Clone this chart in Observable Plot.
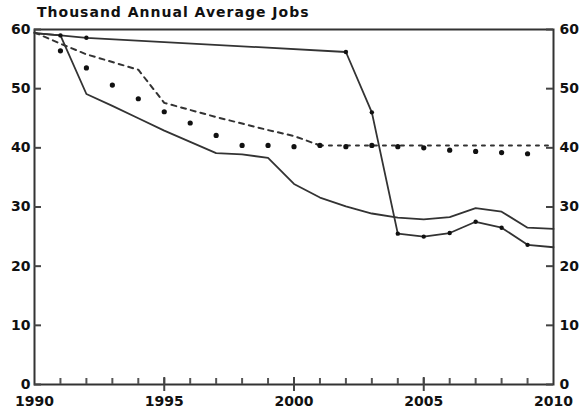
<!DOCTYPE html>
<html>
<head>
<meta charset="utf-8">
<script src="https://cdn.jsdelivr.net/npm/d3@7"></script>
<script src="https://cdn.jsdelivr.net/npm/@observablehq/plot@0.6"></script>
<style>
  html, body { margin: 0; padding: 0; background: #fff; }
  #title { height: 20px; padding-left: 37px; font: bold 14px "DejaVu Sans", sans-serif; letter-spacing: 1px; line-height: 25px; color: #111; white-space: nowrap; }
  svg { display: block; overflow: visible; }
</style>
</head>
<body>
<div id="title">Thousand Annual Average Jobs</div>
<div id="chart"></div>
<script>
// Upper solid line with markers
const yearsA = [1990, 1991, 1992, 2002, 2003, 2004, 2005, 2006, 2007, 2008, 2009, 2010];
const valuesA = [59.4, 59.0, 58.6, 56.2, 46.0, 25.5, 25.0, 25.6, 27.5, 26.5, 23.6, 23.2];
const markedA = [1991, 1992, 2002, 2003, 2004, 2005, 2006, 2007, 2008, 2009];

// Lower solid line (no markers)
const yearsB = [1990, 1991, 1992, 1993, 1994, 1995, 1996, 1997, 1998, 1999, 2000, 2001, 2002, 2003, 2004, 2005, 2006, 2007, 2008, 2009, 2010];
const valuesB = [59.4, 59.0, 49.1, 47.1, 45.0, 42.9, 41.0, 39.1, 38.9, 38.3, 33.9, 31.6, 30.1, 28.9, 28.2, 27.9, 28.3, 29.8, 29.2, 26.5, 26.3];

// Dashed line (1990-2001) then dotted flat line (2001-2010)
const yearsC = [1990, 1991, 1992, 1993, 1994, 1995, 1996, 1997, 1998, 1999, 2000, 2001];
const valuesC = [59.5, 57.6, 55.8, 54.5, 53.2, 47.6, 46.4, 45.2, 44.1, 43.0, 42.0, 40.4];
const yearsC2 = [2001, 2002, 2003, 2004, 2005, 2006, 2007, 2008, 2009, 2010];
const valuesC2 = [40.4, 40.4, 40.4, 40.4, 40.4, 40.4, 40.4, 40.4, 40.4, 40.4];

// Scatter points (no line)
const yearsD = [1991, 1992, 1993, 1994, 1995, 1996, 1997, 1998, 1999, 2000, 2001, 2002, 2003, 2004, 2005, 2006, 2007, 2008, 2009];
const valuesD = [56.4, 53.5, 50.6, 48.3, 46.1, 44.2, 42.1, 40.4, 40.4, 40.2, 40.4, 40.2, 40.4, 40.2, 40.0, 39.6, 39.4, 39.2, 39.0];

const yTicks = [0, 10, 20, 30, 40, 50, 60];
const xTicks = [1990, 1995, 2000, 2005, 2010];
const xMajor = [1995, 2000, 2005];
const xMinor = d3.range(1991, 2010);

const A = yearsA.map((x, i) => ({x, y: valuesA[i]}));
const B = yearsB.map((x, i) => ({x, y: valuesB[i]}));
const C = yearsC.map((x, i) => ({x, y: valuesC[i]}));
const C2 = yearsC2.map((x, i) => ({x, y: valuesC2[i]}));
const D = yearsD.map((x, i) => ({x, y: valuesD[i]}));

const ink = "#333";
const W = 587, H = 397, mT = 9, mB = 33, mL = 34, mR = 34;
const plotW = W - mL - mR, plotH = H - mT - mB;

const chart = Plot.plot({
  width: W,
  height: H,
  marginTop: mT,
  marginBottom: mB,
  marginLeft: mL,
  marginRight: mR,
  style: {fontFamily: "DejaVu Sans, sans-serif", fontSize: "14px", fontWeight: "bold", color: "#111", background: "#fff"},
  x: {domain: [1990, 2010]},
  y: {domain: [0, 60]},
  marks: [
    Plot.frame({stroke: ink, strokeWidth: 2, fill: "none"}),
    // inward minor ticks along the bottom
    Plot.axisX({ticks: xMinor, tickSize: 6, dy: -6, tickFormat: () => "", label: null, stroke: "#555", strokeWidth: 2}),
    // major ticks crossing the bottom axis
    Plot.tickX(xMajor, {x: d => d, insetTop: plotH - 7, insetBottom: -7, stroke: "#444", strokeWidth: 2}),
    // inward y ticks, both sides
    Plot.tickY(yTicks, {y: d => d, insetRight: plotW - 7, stroke: "#444", strokeWidth: 2}),
    Plot.tickY(yTicks, {y: d => d, insetLeft: plotW - 7, stroke: "#444", strokeWidth: 2}),
    Plot.axisX({ticks: xTicks, tickSize: 0, tickPadding: 12, tickFormat: d => String(d), label: null, fill: "#111"}),
    Plot.axisY({anchor: "left", ticks: yTicks, tickSize: 0, tickPadding: 4, label: null, fill: "#111"}),
    Plot.axisY({anchor: "right", ticks: yTicks, tickSize: 0, tickPadding: 6, label: null, fill: "#111"}),
    Plot.line(B, {x: "x", y: "y", stroke: ink, strokeWidth: 1.8}),
    Plot.line(A, {x: "x", y: "y", stroke: ink, strokeWidth: 1.8}),
    Plot.dot(A.filter(d => markedA.includes(d.x)), {x: "x", y: "y", r: 2.2, fill: "#111", stroke: null}),
    Plot.line(C, {x: "x", y: "y", stroke: ink, strokeWidth: 2, strokeDasharray: "5,5"}),
    Plot.line(C2, {x: "x", y: "y", stroke: ink, strokeWidth: 2, strokeDasharray: "3,6"}),
    Plot.dot(D, {x: "x", y: "y", r: 2.6, fill: "#111", stroke: null})
  ]
});
document.getElementById("chart").appendChild(chart);
</script>
</body>
</html>
